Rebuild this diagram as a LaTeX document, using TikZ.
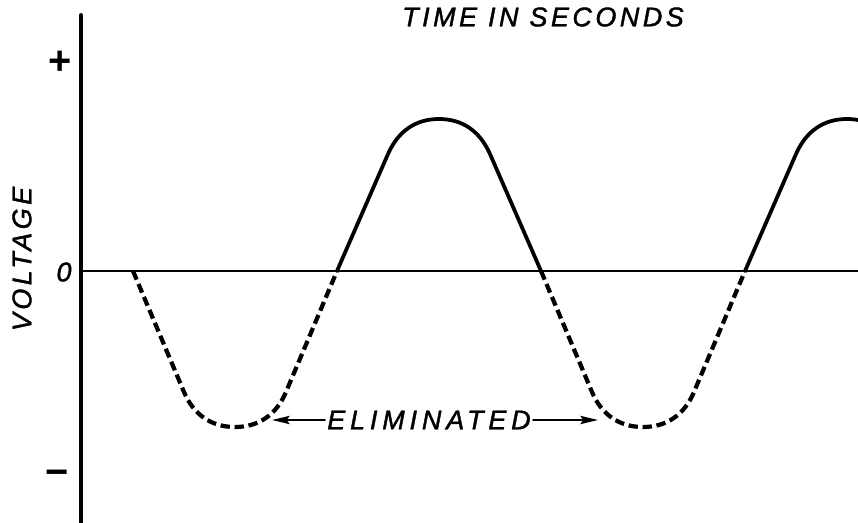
\documentclass[tikz,border=0pt]{standalone}
\usepackage{fontspec}
\setmainfont{Liberation Sans}
\newfontfamily\lettering[LetterSpace=13,FakeBold=1.5]{Liberation Sans}
\usetikzlibrary{arrows.meta}

\begin{document}
\begin{tikzpicture}[x=0.03cm,y=0.03cm,line join=round,line cap=round,>={Stealth[length=15pt,width=7pt,inset=2.5pt]},
	font=\fontsize{23}{27}\selectfont\lettering\itshape,
	wave/.style={line width=3.2pt},
	cut/.style={line width=3.6pt,line cap=butt,dash pattern=on 8pt off 4pt},
	sign/.style={font=\fontsize{34}{36}\selectfont\bfseries}]
	\useasboundingbox (-81,-251) rectangle (777,271);
	\clip (-81,-251) rectangle (777,271);
	% axes
	\coordinate (O) at (0,0);
	\coordinate (U) at (0,256);
	\coordinate (D) at (0,-260);
	\coordinate (R) at (790,0);
	\draw[line width=3.2pt] (D) -- (U);
	\draw[line width=2.4pt] (O) -- (R);
	\node[sign] (P) at (-21,208) {+};
	\node (Z) at (-17,-1) {0};
	\node[sign] (M) at (-24,-207) {−};
	\node[rotate=90] (V) at (-59,12) {VOLTAGE};
	\node (T) at (462,254) {TIME IN SECONDS};
	% half waves: troughs cut away, peaks kept
	\foreach \s in {0,408} {
		\draw[cut] (52+\s,0) -- (103+\s,-121) to[out=-67,in=180] (154+\s,-156) to[out=0,in=-113] (205+\s,-121) -- (256+\s,0);
		\draw[wave] (256+\s,0) -- (307+\s,117) to[out=66,in=180] (358+\s,152) to[out=0,in=114] (409+\s,117) -- (460+\s,0);
	}
	\node[inner sep=2pt,font=\fontsize{23}{27}\selectfont\lettering\itshape\addfontfeature{LetterSpace=18}] (L) at (348,-149) {ELIMINATED};
	\coordinate (A) at (191,-149);
	\coordinate (B) at (517,-149);
	\draw[->,line width=1.9pt] (L.west) -- (A);
	\draw[->,line width=1.9pt] (L.east) -- (B);
\end{tikzpicture}
\end{document}
